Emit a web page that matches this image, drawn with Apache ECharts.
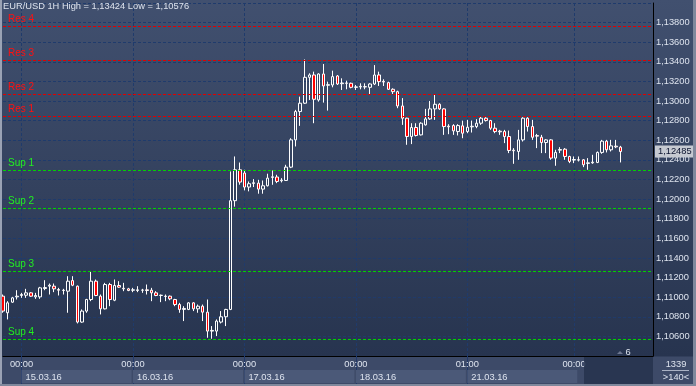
<!DOCTYPE html>
<html><head><meta charset="utf-8">
<script src="https://cdn.jsdelivr.net/npm/echarts@6/dist/echarts.min.js"></script>
<style>
html,body{margin:0;padding:0;background:#2b3855;}
#c{width:696px;height:386px;background:linear-gradient(to bottom,#41506f 0px,#27344f 356px,#3d4a68 357px,#3d4a68 386px);}
</style></head><body><div id="c"></div><script>
const dayLabels = ['14.03.16','15.03.16','16.03.16','17.03.16','18.03.16','21.03.16','22.03.16'];
const firstHour = [20,0,0,0,0,1,0];
const lastHour  = [23,23,23,23,23,23,10];
const openP = [1.11010,1.10841,1.10949,1.11003,1.11017,1.11020,1.11044,1.11003,1.11003,1.11088,
1.11112,1.11112,1.11078,1.11071,1.11061,1.11169,1.11112,1.10746,1.10858,1.10976,
1.11163,1.11010,1.10881,1.11129,1.10969,1.11119,1.11091,1.11085,1.11071,1.11068,
1.11071,1.11075,1.11071,1.11044,1.11017,1.11010,1.11010,1.10976,1.10925,1.10875,
1.10875,1.10942,1.10881,1.10908,1.10847,1.10654,1.10654,1.10746,1.10800,1.10875,
1.11984,1.12299,1.12266,1.12123,1.12160,1.12163,1.12102,1.12136,1.12221,1.12225,
1.12187,1.12190,1.12326,1.12604,1.12893,1.12978,1.13242,1.13266,1.13011,1.13276,
1.13161,1.13164,1.13256,1.13177,1.13184,1.13181,1.13140,1.13144,1.13147,1.13140,
1.13174,1.13266,1.13201,1.13188,1.13120,1.13096,1.12950,1.12825,1.12639,1.12730,
1.12655,1.12757,1.12818,1.12920,1.12967,1.12920,1.12744,1.12750,1.12689,1.12747,
1.12689,1.12737,1.12740,1.12774,1.12825,1.12801,1.12723,1.12693,1.12689,1.12638,
1.12499,1.12486,1.12604,1.12825,1.12740,1.12648,1.12631,1.12577,1.12604,1.12418,
1.12499,1.12509,1.12435,1.12398,1.12401,1.12401,1.12364,1.12370,1.12374,1.12476,
1.12591,1.12503,1.12540,1.12530];
const highP = [1.11027,1.10959,1.11003,1.11071,1.11044,1.11085,1.11051,1.11044,1.11105,1.11173,
1.11139,1.11139,1.11095,1.11085,1.11214,1.11214,1.11119,1.10875,1.10983,1.11264,
1.11180,1.11027,1.11146,1.11146,1.11180,1.11163,1.11146,1.11095,1.11095,1.11112,
1.11085,1.11129,1.11095,1.11061,1.11027,1.11027,1.11017,1.10983,1.10942,1.10908,
1.10949,1.10949,1.10925,1.10925,1.10976,1.10705,1.10773,1.10858,1.10881,1.12282,
1.12435,1.12373,1.12299,1.12180,1.12204,1.12197,1.12190,1.12259,1.12292,1.12248,
1.12214,1.12350,1.12621,1.12910,1.13045,1.13424,1.13283,1.13300,1.13283,1.13378,
1.13198,1.13310,1.13266,1.13232,1.13208,1.13188,1.13164,1.13181,1.13181,1.13181,
1.13367,1.13300,1.13222,1.13198,1.13130,1.13106,1.13030,1.12830,1.12774,1.12774,
1.12784,1.12920,1.13001,1.13069,1.12978,1.12927,1.12764,1.12764,1.12764,1.12800,
1.12808,1.12801,1.12815,1.12842,1.12835,1.12808,1.12774,1.12706,1.12706,1.12699,
1.12520,1.12706,1.12835,1.12835,1.12808,1.12665,1.12655,1.12611,1.12611,1.12503,
1.12530,1.12520,1.12442,1.12435,1.12435,1.12408,1.12418,1.12452,1.12486,1.12604,
1.12604,1.12604,1.12604,1.12543];
const lowP = [1.10841,1.10773,1.10942,1.10976,1.10993,1.10993,1.11003,1.10983,1.10983,1.11071,
1.11027,1.11051,1.11017,1.11027,1.10841,1.11112,1.10732,1.10739,1.10841,1.10959,
1.11010,1.10824,1.10875,1.10908,1.10959,1.11095,1.11061,1.11061,1.11051,1.11051,
1.11044,1.11027,1.10959,1.11010,1.10949,1.10959,1.10969,1.10908,1.10841,1.10756,
1.10868,1.10858,1.10841,1.10756,1.10586,1.10576,1.10603,1.10732,1.10705,1.10868,
1.11923,1.12147,1.12089,1.12079,1.12123,1.12055,1.12055,1.12129,1.12146,1.12163,
1.12170,1.12187,1.12316,1.12537,1.12747,1.12971,1.13011,1.12774,1.12994,1.12984,
1.12903,1.13140,1.13164,1.13113,1.13120,1.13130,1.13113,1.13120,1.13120,1.13062,
1.13164,1.13154,1.13154,1.13113,1.13072,1.12927,1.12757,1.12554,1.12561,1.12639,
1.12649,1.12750,1.12808,1.12808,1.12910,1.12655,1.12662,1.12655,1.12649,1.12621,
1.12672,1.12679,1.12723,1.12757,1.12791,1.12706,1.12672,1.12655,1.12571,1.12469,
1.12360,1.12401,1.12587,1.12689,1.12604,1.12520,1.12469,1.12469,1.12401,1.12340,
1.12469,1.12401,1.12367,1.12367,1.12384,1.12326,1.12299,1.12360,1.12367,1.12462,
1.12476,1.12486,1.12520,1.12374];
const closeP = [1.10858,1.10942,1.10993,1.11010,1.11027,1.11044,1.11010,1.11017,1.11095,1.11098,
1.11122,1.11085,1.11071,1.11068,1.11163,1.11122,1.10746,1.10858,1.10976,1.11163,
1.11017,1.10881,1.11129,1.10976,1.11119,1.11102,1.11085,1.11068,1.11075,1.11075,
1.11072,1.11068,1.11044,1.11017,1.11020,1.11007,1.10983,1.10925,1.10875,1.10885,
1.10942,1.10881,1.10908,1.10847,1.10654,1.10661,1.10756,1.10800,1.10875,1.11984,
1.12299,1.12174,1.12123,1.12157,1.12167,1.12102,1.12136,1.12214,1.12228,1.12180,
1.12194,1.12326,1.12604,1.12893,1.12978,1.13242,1.13266,1.13018,1.13276,1.13154,
1.13167,1.13249,1.13174,1.13184,1.13181,1.13140,1.13144,1.13150,1.13144,1.13174,
1.13266,1.13198,1.13194,1.13120,1.13096,1.12950,1.12825,1.12639,1.12730,1.12649,
1.12774,1.12818,1.12920,1.12967,1.12920,1.12740,1.12737,1.12696,1.12750,1.12672,
1.12733,1.12743,1.12774,1.12825,1.12801,1.12723,1.12689,1.12686,1.12638,1.12496,
1.12493,1.12604,1.12825,1.12740,1.12631,1.12642,1.12577,1.12604,1.12418,1.12476,
1.12506,1.12435,1.12384,1.12404,1.12398,1.12350,1.12370,1.12377,1.12476,1.12591,
1.12503,1.12543,1.12533,1.12485];
const resNames = ['Res 4','Res 3','Res 2','Res 1'];
const resLevels = [1.13760,1.13414,1.13067,1.12842];
const supNames = ['Sup 1','Sup 2','Sup 3','Sup 4'];
const supLevels = [1.12292,1.11904,1.11262,1.10568];
const symbolName = 'EUR/USD', timeframe = '1H';
const barsInfo = ['1339','>140<'];
const shiftLabel = '6';
const yMin = 1.104, yMax = 1.140, yStep = 0.002;
const emptySlots = 7;

const FONT = 'Liberation Sans';
const TXT = '#dde3ee';
const fmt = v => v.toFixed(5).replace('.', ',');

const categories = [];
const dayStart = new Set();
dayLabels.forEach((d, i) => {
  if (i > 0) dayStart.add(categories.length);
  for (let h = firstHour[i]; h <= lastHour[i]; h++) categories.push(d + ' ' + String(h).padStart(2, '0') + ':00');
});
for (let k = 0; k < emptySlots; k++) categories.push('');
const ohlc = openP.map((o, i) => [o, closeP[i], lowP[i], highP[i]]);
const isDay = (idx) => dayStart.has(idx);
const lastClose = closeP[closeP.length - 1];

function levelSeries(names, levels, lineColor, textColor) {
  return {
    type: 'line', data: [], silent: true,
    markLine: {
      silent: true, symbol: ['none', 'none'], animation: false, precision: 5,
      lineStyle: { color: lineColor, type: [3, 2], width: 1, opacity: 1 },
      label: { show: true, position: 'insideStartTop', formatter: '{b}', distance: [5, 2],
        fontSize: 10, fontFamily: FONT, color: textColor },
      data: levels.map((v, i) => ({ yAxis: v, name: names[i] }))
    }
  };
}

const chart = echarts.init(document.getElementById('c'), null, { renderer: 'canvas' });
chart.setOption({
  animation: false,
  backgroundColor: 'transparent',
  textStyle: { fontFamily: FONT },
  title: {
    text: `${symbolName} ${timeframe} High = ${fmt(Math.max(...highP))} Low = ${fmt(Math.min(...lowP))}`,
    left: 3, top: 2, padding: 0,
    textStyle: { fontSize: 9.3, color: TXT, fontWeight: 'normal', fontFamily: FONT }
  },
  grid: { left: 3, right: 43, top: 3, bottom: 30, outerBoundsMode: 'none', containLabel: false },
  xAxis: [{
    type: 'category', data: categories, boundaryGap: false,
    axisLine: { lineStyle: { color: '#000', width: 1 } },
    axisTick: { show: false },
    axisLabel: { interval: isDay, color: TXT, fontSize: 9.3, fontFamily: FONT, margin: 4,
      formatter: v => v.split(' ')[1] || '' },
    splitLine: { show: true, interval: isDay, lineStyle: { color: '#1f3b6c', type: [3, 2], width: 1 } }
  }, {
    type: 'category', data: categories, boundaryGap: false, position: 'bottom',
    axisLine: { show: false },
    axisTick: { show: true, interval: isDay, length: 28, lineStyle: { color: '#22396a' } },
    axisLabel: { interval: isDay, color: TXT, fontSize: 9.3, fontFamily: FONT, margin: 14,
      align: 'left', backgroundColor: '#4b5978', width: 105, padding: [2, 1, 1, 4], lineHeight: 10,
      formatter: v => v.split(' ')[0] || '' },
    splitLine: { show: false }
  }],
  yAxis: {
    type: 'value', position: 'right', min: yMin, max: yMax, interval: yStep,
    axisLine: { show: true, lineStyle: { color: '#000' } },
    axisTick: { show: false },
    axisLabel: { showMinLabel: false, showMaxLabel: false, margin: 3, color: TXT, fontSize: 9.3,
      fontFamily: FONT, formatter: v => fmt(v) },
    splitLine: { show: true, lineStyle: { color: '#1f3b6c', type: [3, 2], width: 1 } }
  },
  series: [
    levelSeries(resNames, resLevels, '#e00000', '#ff1010'),
    levelSeries(supNames, supLevels, '#00d400', '#22ee22'),
    {
      type: 'candlestick', data: ohlc, barWidth: 3,
      itemStyle: { color: 'rgba(0,0,0,0)', color0: '#ff0000', borderColor: '#ffffff',
        borderColor0: '#ffffff', borderColorDoji: '#ffffff', borderWidth: 1 }
    },
    {
      type: 'line', data: [], silent: true,
      markLine: {
        silent: true, symbol: ['none', 'none'], animation: false, precision: 5,
        lineStyle: { color: 'rgba(0,0,0,0)', width: 0 },
        label: { show: true, position: 'end', formatter: fmt(lastClose), distance: 2, color: '#0c1430',
          backgroundColor: '#c5c9d1', padding: [2, 3, 1, 3], fontSize: 9.3, fontFamily: FONT },
        data: [{ yAxis: lastClose }]
      }
    }
  ],
  graphic: [
    { type: 'rect', z: 100, shape: { x: 0, y: 0, width: 2, height: 386 }, style: { fill: '#9aa2b4' } },
    { type: 'rect', z: 100, shape: { x: 693, y: 0, width: 3, height: 386 }, style: { fill: '#7f889c' } },
    { type: 'rect', z: 100, shape: { x: 0, y: 384, width: 696, height: 2 }, style: { fill: '#7f889c' } },
    { type: 'rect', z: 100, shape: { x: 584, y: 357, width: 69, height: 27 }, style: { fill: 'rgba(38,50,78,0.85)' } },
    { type: 'rect', z: 100, shape: { x: 654, y: 357, width: 39, height: 27 }, style: { fill: '#3d4a68' } },
    { type: 'line', z: 101, shape: { x1: 662, y1: 370.5, x2: 689, y2: 370.5 }, style: { stroke: '#aab2c4', lineWidth: 1 } },
    { type: 'text', z: 101, x: 676, y: 364, style: { text: barsInfo[0], fill: TXT, font: '9.3px ' + FONT, textAlign: 'center', textVerticalAlign: 'middle' } },
    { type: 'text', z: 101, x: 676, y: 377, style: { text: barsInfo[1], fill: TXT, font: '9.3px ' + FONT, textAlign: 'center', textVerticalAlign: 'middle' } },
    { type: 'polygon', z: 101, shape: { points: [[617, 354], [620, 351], [623, 354]] }, style: { fill: '#6c7690' } },
    { type: 'text', z: 101, x: 628, y: 352, style: { text: shiftLabel, fill: TXT, font: '9.3px ' + FONT, textAlign: 'center', textVerticalAlign: 'middle' } }
  ]
});
</script></body></html>
